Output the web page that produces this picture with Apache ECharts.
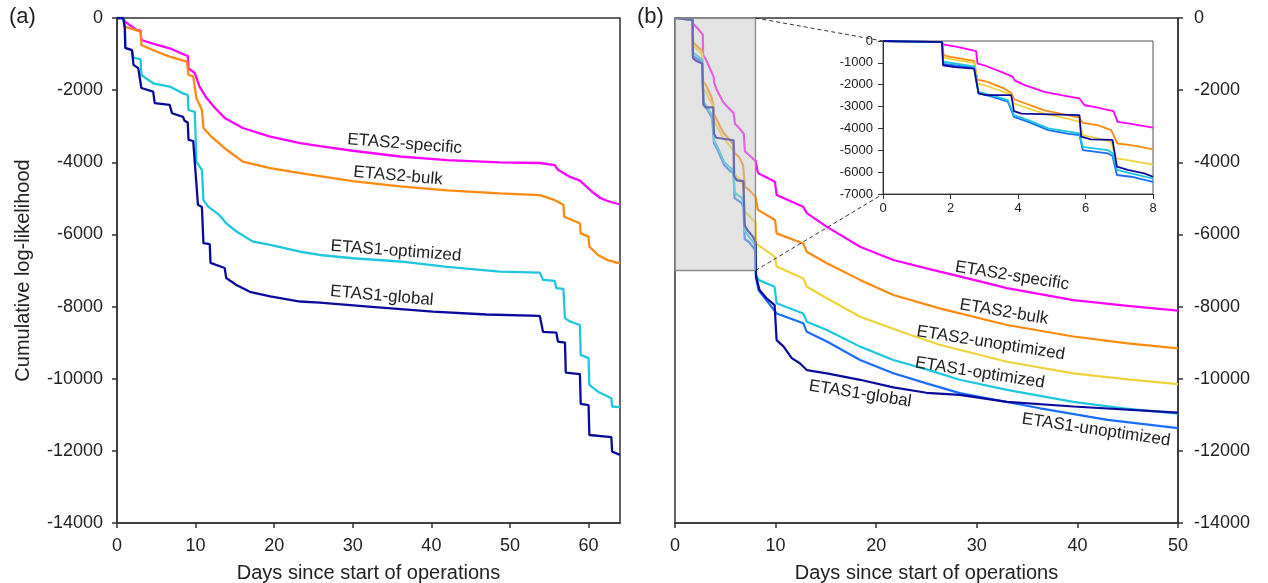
<!DOCTYPE html>
<html>
<head>
<meta charset="utf-8">
<script src="https://cdn.jsdelivr.net/npm/echarts@6/dist/echarts.min.js"></script>
<style>
html,body{margin:0;padding:0;background:#fff;}
#c{width:1268px;height:583px;}
</style>
</head>
<body>
<div id="c"></div>
<script>
// ---------- DATA ----------
// Panel (a): [day, cumulative log-likelihood]
const aSpecific = [[0,0],[0.8,0],[1.0,-100],[2.5,-330],[3.0,-350],[3.1,-610],[5,-740],[6.7,-840],[8.65,-1025],[9.0,-1050],[9.1,-1395],[9.9,-1525],[10.5,-1900],[11.4,-2220],[12.5,-2500],[13.7,-2770],[16,-3050],[19.5,-3290],[23.3,-3470],[25.8,-3550],[30,-3680],[36,-3840],[42,-3940],[48.7,-4000],[53.8,-4020],[55.7,-4080],[56.1,-4210],[57.6,-4400],[58.9,-4510],[60.4,-4810],[61.5,-4990],[62.5,-5080],[64,-5170]];
const aBulk = [[0,0],[0.8,0],[1.0,-240],[2.3,-330],[3.0,-380],[3.1,-750],[5,-930],[6.7,-1070],[8.9,-1210],[9.1,-1580],[9.7,-1620],[10.1,-2220],[10.8,-2550],[11.0,-3050],[12,-3290],[14,-3660],[16,-3980],[19.5,-4160],[23.3,-4300],[30,-4520],[36,-4670],[42,-4780],[48.7,-4860],[53.8,-4910],[55.7,-5050],[56.8,-5180],[56.9,-5510],[58.9,-5690],[59.0,-5970],[60,-6060],[60.1,-6340],[61.2,-6570],[62.5,-6720],[64,-6800]];
const aOptimized = [[0,0],[0.8,0],[1.0,-280],[1.05,-830],[1.9,-890],[2.1,-1100],[3.0,-1150],[3.1,-1580],[4.6,-1810],[6.7,-1900],[8.4,-2090],[9.0,-2130],[9.1,-2550],[9.9,-2600],[10.1,-3980],[10.8,-4210],[11.0,-5050],[11.6,-5230],[13,-5460],[13.9,-5690],[15.2,-5920],[17.3,-6200],[19.5,-6290],[23.3,-6480],[25.8,-6570],[30,-6660],[36,-6750],[42,-6900],[48.7,-7030],[53.8,-7060],[54.2,-7260],[55.7,-7290],[55.9,-7490],[56.8,-7510],[57,-8320],[57.6,-8410],[58.9,-8510],[59,-9340],[60,-9430],[60.1,-10170],[61.2,-10360],[62.9,-10540],[63.0,-10770],[64,-10790]];
const aGlobal = [[0,0],[0.8,0],[1.0,-280],[1.05,-830],[1.9,-890],[2.1,-1300],[2.7,-1390],[3.1,-1940],[4.6,-2040],[4.8,-2360],[6.7,-2410],[7.0,-2640],[8.4,-2740],[8.6,-2850],[9.0,-2900],[9.1,-3380],[9.7,-3410],[10.3,-5180],[10.8,-5240],[11.0,-6240],[11.8,-6270],[11.9,-6790],[13.7,-6930],[13.9,-7210],[15.2,-7400],[16.9,-7590],[19.5,-7720],[23.3,-7860],[25.8,-7890],[32,-8000],[40.2,-8140],[47,-8220],[53.8,-8260],[54.2,-8700],[55.9,-8720],[56.1,-8970],[57,-9000],[57.1,-9830],[58.9,-9870],[59.0,-10700],[60,-10730],[60.1,-11560],[62.9,-11620],[63.0,-12020],[64,-12110]];

// Panel (b), first 8 days (also shown in the inset)
const bSpecificEarly = [[0,0],[1.75,-50],[1.78,-150],[2.2,-270],[2.76,-460],[2.8,-1035],[3.0,-1110],[3.5,-1415],[3.85,-1640],[3.9,-1800],[4.2,-2020],[4.78,-2330],[5.28,-2480],[5.82,-2630],[5.97,-2940],[6.26,-3010],[6.83,-3210],[6.95,-3700],[7.25,-3770],[8,-3960]];
const bBulkEarly = [[0,0],[1.75,-50],[1.8,-655],[2.0,-730],[2.7,-910],[2.8,-1765],[3.1,-1870],[3.6,-2180],[3.8,-2375],[3.88,-2660],[4.1,-2790],[4.78,-3170],[5.47,-3390],[5.82,-3500],[5.92,-3745],[6.36,-3850],[6.76,-4080],[6.95,-4690],[7.35,-4760],[8,-4960]];
const bUnopt2Early = [[0,0],[1.75,-50],[1.78,-760],[2.12,-850],[2.7,-1000],[2.8,-1950],[3.1,-2070],[3.7,-2400],[3.8,-2460],[3.88,-2860],[4.1,-2980],[4.78,-3320],[5.47,-3550],[5.82,-3700],[5.92,-4310],[6.36,-4460],[6.76,-4610],[6.9,-5370],[7.25,-5450],[8,-5660]];
const bOptimizedEarly = [[0,0],[1.75,-50],[1.78,-950],[2.7,-1160],[2.83,-2330],[3.2,-2480],[3.7,-2710],[3.88,-3390],[4.3,-3620],[4.9,-4000],[5.5,-4150],[5.82,-4230],[5.92,-4840],[6.66,-4990],[6.8,-5140],[6.93,-5900],[7.35,-6060],[8,-6300]];
const bGlobalEarly = [[0,0],[1.75,-50],[1.78,-1110],[2.12,-1190],[2.7,-1260],[2.83,-2400],[3.06,-2480],[3.8,-2480],[3.88,-3210],[4.1,-3320],[5.82,-3390],[5.87,-4380],[6.16,-4500],[6.8,-4520],[6.93,-5750],[7.25,-5900],[7.74,-6060],[8,-6210]];
const bUnopt1Early = [[0,0],[1.75,-50],[1.78,-1050],[2.7,-1220],[2.83,-2400],[3.2,-2530],[3.7,-2780],[3.88,-3470],[4.3,-3700],[4.9,-4080],[5.5,-4250],[5.82,-4300],[5.92,-4990],[6.66,-5140],[6.8,-5260],[6.93,-6130],[7.35,-6210],[8,-6440]];

// Panel (b), after day 8
const bSpecificLate = [[8.05,-4000],[8.25,-4300],[9.94,-4540],[10.1,-4910],[12.75,-5230],[13.1,-5410],[15.1,-5790],[18.4,-6340],[21.7,-6710],[25,-6940],[29.7,-7260],[33,-7490],[39.6,-7820],[45,-7980],[50,-8110]];
const bBulkLate = [[8.05,-4980],[8.25,-5320],[9.94,-5600],[10.1,-5970],[12.75,-6250],[13.1,-6480],[15.1,-6800],[18.4,-7260],[21.7,-7680],[26.3,-8050],[33,-8510],[39.6,-8830],[45,-9020],[50,-9160]];
const bUnopt2Late = [[8.05,-6250],[9.94,-6620],[10.1,-6890],[12.75,-7220],[13.1,-7450],[15.1,-7770],[18.4,-8280],[23.4,-8790],[26.3,-9060],[33,-9530],[39.6,-9850],[45,-10020],[50,-10150]];
const bOptimizedLate = [[8.05,-7100],[8.3,-7260],[9.9,-7450],[10.1,-7910],[12.75,-8190],[13.1,-8420],[15.1,-8650],[18.4,-9110],[21.7,-9480],[25,-9740],[28.3,-10030],[33,-10310],[39.6,-10640],[44.6,-10820],[50,-10970]];
const bGlobalLate = [[8.05,-7150],[8.4,-7540],[9.1,-7770],[9.9,-7960],[10.1,-8930],[10.8,-9110],[11.6,-9430],[12.4,-9570],[13.1,-9760],[15.1,-9850],[18.4,-10030],[21.7,-10240],[25,-10390],[28.3,-10450],[33,-10640],[39.6,-10770],[50,-10940]];
const bUnopt1Late = [[8.05,-7200],[8.3,-7540],[10.1,-8190],[12.75,-8460],[13.1,-8700],[15.1,-8970],[18.4,-9480],[21.7,-9850],[25,-10130],[28.3,-10400],[36.3,-10820],[43,-11140],[50,-11370]];

// zoomed region shown in inset: [xStart, xEnd, yBottom, yTop]
const zoomBox = [0, 8, -7000, 0];

// tick values
const aTicksX = [0,10,20,30,40,50,60];
const bTicksX = [0,10,20,30,40,50];
const mainTicksY = [0,-2000,-4000,-6000,-8000,-10000,-12000,-14000];
const insetTicksX = [0,2,4,6,8];
const insetTicksY = [0,-1000,-2000,-3000,-4000,-5000,-6000,-7000];

// ---------- STYLE ----------
const FONT = 'Liberation Sans, Arial, Helvetica, sans-serif';
const C = {
  specific: '#ff00ff',
  bulk: '#ff8a10',
  unopt2: '#eed43a',
  optimized: '#1ec6de',
  global: '#0a0a9c',
  unopt1: '#1a6cff'
};
const AX = '#333';

function axisBase(ticks, pos, fs, margin, tickLen, lw) {
  return {
    type: 'value',
    position: pos,
    axisLine: {show: true, onZero: false, lineStyle: {color: AX, width: lw}},
    axisTick: {show: true, inside: false, length: tickLen, customValues: ticks, lineStyle: {color: AX, width: lw}},
    axisLabel: {show: true, customValues: ticks, margin: margin, fontSize: fs, fontFamily: FONT, color: '#222', formatter: v => String(v), hideOverlap: false},
    splitLine: {show: false},
    minorTick: {show: false}
  };
}

function ln(data, xi, color, width, z) {
  return {
    type: 'line', data: data, xAxisIndex: xi, yAxisIndex: xi,
    showSymbol: false, symbol: 'none', smooth: false, z: z || 2,
    lineStyle: {color: color, width: width}, itemStyle: {color: color},
    emphasis: {disabled: true}, silent: true, animation: false
  };
}

const xa = axisBase(aTicksX, 'bottom', 18, 14, 5, 1.5);
Object.assign(xa, {gridIndex: 0, min: 0, max: 64, name: 'Days since start of operations', nameLocation: 'middle', nameGap: 40,
  nameTextStyle: {fontSize: 20, fontFamily: FONT, color: '#222'}});
const ya = axisBase(mainTicksY, 'left', 18, 14, 5, 1.5);
Object.assign(ya, {gridIndex: 0, min: -14000, max: 0, name: 'Cumulative log-likelihood', nameLocation: 'middle', nameGap: 84, nameRotate: 90,
  nameTextStyle: {fontSize: 20, fontFamily: FONT, color: '#222'}});

const xb = axisBase(bTicksX, 'bottom', 18, 14, 5, 1.5);
Object.assign(xb, {gridIndex: 1, min: 0, max: 50, name: 'Days since start of operations', nameLocation: 'middle', nameGap: 40,
  nameTextStyle: {fontSize: 20, fontFamily: FONT, color: '#222'}});
const yb = axisBase(mainTicksY, 'right', 18, 16, 5, 1.5);
Object.assign(yb, {gridIndex: 1, min: -14000, max: 0});

const xi = axisBase(insetTicksX, 'bottom', 13, 8, 5, 1);
Object.assign(xi, {gridIndex: 2, min: 0, max: 8, z: 25});
const yi = axisBase(insetTicksY, 'left', 13, 10, 5, 1);
Object.assign(yi, {gridIndex: 2, min: -7000, max: 0, z: 25});

const series = [
  ln(aSpecific, 0, C.specific, 2.3),
  ln(aBulk, 0, C.bulk, 2.3),
  ln(aOptimized, 0, C.optimized, 2.3),
  ln(aGlobal, 0, C.global, 2.3),

  ln(bSpecificEarly.concat(bSpecificLate), 1, C.specific, 2.2),
  ln(bBulkEarly.concat(bBulkLate), 1, C.bulk, 2.2),
  ln(bUnopt2Early.concat(bUnopt2Late), 1, C.unopt2, 2.2),
  ln(bUnopt1Early.concat(bUnopt1Late), 1, C.unopt1, 2.2),
  ln(bOptimizedEarly.concat(bOptimizedLate), 1, C.optimized, 2.2),
  ln(bGlobalEarly.concat(bGlobalLate), 1, C.global, 2.2),

  {
    type: 'custom', xAxisIndex: 1, yAxisIndex: 1, z: 10, silent: true, animation: false,
    data: [zoomBox],
    renderItem: function (params, api) {
      const p0 = api.coord([api.value(0), api.value(3)]);
      const p1 = api.coord([api.value(1), api.value(2)]);
      return {
        type: 'rect',
        shape: {x: p0[0], y: p0[1], width: p1[0] - p0[0], height: p1[1] - p0[1]},
        style: {fill: 'rgba(200,200,200,0.5)', stroke: '#8a8a8a', lineWidth: 1.3}
      };
    }
  },

  ln(bSpecificEarly, 2, C.specific, 1.8, 20),
  ln(bBulkEarly, 2, C.bulk, 1.8, 20),
  ln(bUnopt2Early, 2, C.unopt2, 1.8, 20),
  ln(bUnopt1Early, 2, C.unopt1, 1.8, 20),
  ln(bOptimizedEarly, 2, C.optimized, 1.8, 20),
  ln(bGlobalEarly, 2, C.global, 1.8, 20)
];

const chart = echarts.init(document.getElementById('c'), null, {renderer: 'canvas'});
chart.setOption({
  animation: false,
  backgroundColor: '#fff',
  grid: [
    {left: 117, top: 18, width: 503, height: 505, show: true, borderColor: AX, borderWidth: 1.5, backgroundColor: 'transparent', containLabel: false, outerBoundsMode: 'none'},
    {left: 675, top: 18, width: 503, height: 505, show: true, borderColor: AX, borderWidth: 1.5, backgroundColor: 'transparent', containLabel: false, outerBoundsMode: 'none'},
    {left: 883, top: 41, width: 270, height: 153, show: true, borderColor: '#555', borderWidth: 1, backgroundColor: '#fff', containLabel: false, outerBoundsMode: 'none', z: 15}
  ],
  xAxis: [xa, xb, xi],
  yAxis: [ya, yb, yi],
  series: series
});

// ---------- ANNOTATIONS ----------
// curve labels anchored in data coordinates: [text, gridIndex, day, value, rotationDeg]
const curveLabels = [
  ['ETAS2-specific', 0, 36.6, -3493, 4.5],
  ['ETAS2-bulk', 0, 35.75, -4380, 5],
  ['ETAS1-optimized', 0, 35.5, -6460, 4.3],
  ['ETAS1-global', 0, 33.7, -7706, 5],
  ['ETAS2-specific', 1, 33.5, -7150, 9],
  ['ETAS2-bulk', 1, 32.7, -8150, 9.5],
  ['ETAS2-unoptimized', 1, 31.4, -9010, 9],
  ['ETAS1-optimized', 1, 30.3, -9840, 9],
  ['ETAS1-global', 1, 18.4, -10420, 9],
  ['ETAS1-unoptimized', 1, 41.85, -11420, 8.4]
];

const graphics = [];
curveLabels.forEach(function (l) {
  const p = chart.convertToPixel({xAxisIndex: l[1], yAxisIndex: l[1]}, [l[2], l[3]]);
  graphics.push({
    type: 'text', x: p[0], y: p[1], rotation: -l[4] * Math.PI / 180, z: 30, silent: true,
    style: {text: l[0], font: '17px ' + FONT, fill: '#222', align: 'center', verticalAlign: 'middle', textAlign: 'center', textVerticalAlign: 'middle'}
  });
});

// dashed connectors from zoom box to inset
const boxTR = chart.convertToPixel({xAxisIndex: 1, yAxisIndex: 1}, [zoomBox[1], zoomBox[3]]);
const boxBR = chart.convertToPixel({xAxisIndex: 1, yAxisIndex: 1}, [zoomBox[1], zoomBox[2]]);
const insTL = chart.convertToPixel({xAxisIndex: 2, yAxisIndex: 2}, [0, 0]);
const insBL = chart.convertToPixel({xAxisIndex: 2, yAxisIndex: 2}, [0, -7000]);
[[boxTR, insTL], [boxBR, insBL]].forEach(function (pr) {
  graphics.push({
    type: 'line', z: 12, silent: true,
    shape: {x1: pr[0][0], y1: pr[0][1], x2: pr[1][0], y2: pr[1][1]},
    style: {stroke: '#333', lineWidth: 1, lineDash: [4, 3]}
  });
});

graphics.push({type: 'text', left: 9, top: 6, z: 30, silent: true, style: {text: '(a)', font: '22px ' + FONT, fill: '#222'}});
graphics.push({type: 'text', left: 637, top: 6, z: 30, silent: true, style: {text: '(b)', font: '22px ' + FONT, fill: '#222'}});

chart.setOption({graphic: graphics});
</script>
</body>
</html>
